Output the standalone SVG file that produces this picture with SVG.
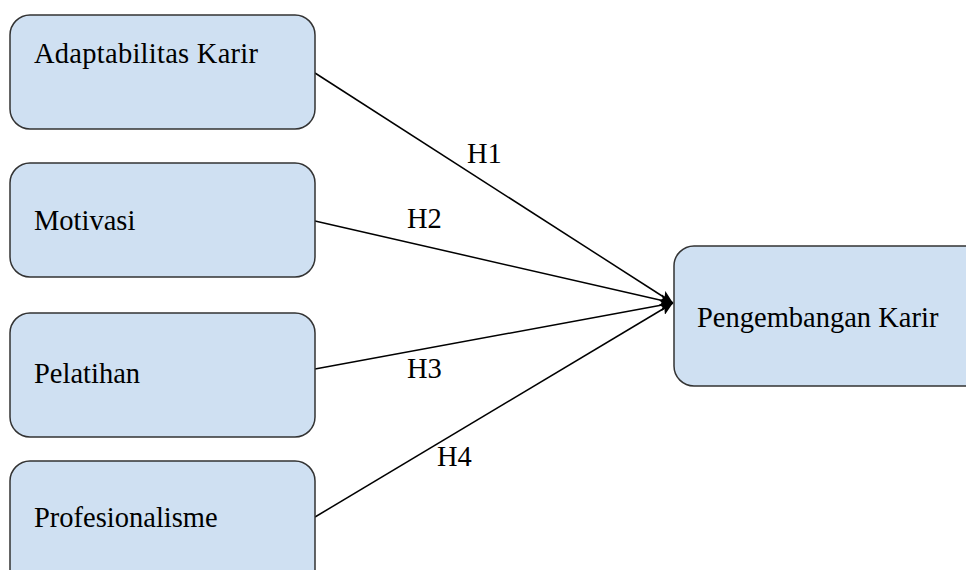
<svg xmlns="http://www.w3.org/2000/svg" width="966" height="570" viewBox="0 0 966 570">
<style>
.box{fill:#cfe0f2;stroke:#333;stroke-width:1.5}
.c{stroke:#000;stroke-width:1.5;fill:none;marker-end:url(#arr)}
</style>
<defs>
<marker id="arr" markerUnits="userSpaceOnUse" markerWidth="14" markerHeight="12" refX="13" refY="6" orient="auto">
<path d="M0,0 L13,6 L0,12 L3,6 z" fill="#000"/>
</marker>
</defs>
<rect width="966" height="570" fill="#fff"/>
<g font-family="Liberation Serif, DejaVu Serif, serif" font-size="28.5" fill="#000">
<g id="connectors">
<line class="c" x1="315" y1="73" x2="673" y2="303"/>
<line class="c" x1="315" y1="221" x2="673" y2="303"/>
<line class="c" x1="315" y1="369" x2="673" y2="303"/>
<line class="c" x1="315" y1="517" x2="673" y2="303"/>
<text x="467" y="163">H1</text>
<text x="407" y="228">H2</text>
<text x="407" y="378">H3</text>
<text x="437" y="466">H4</text>
</g>
<g id="n1"><rect class="box" x="10" y="15" width="305" height="114" rx="20"/><text x="34" y="63" textLength="224">Adaptabilitas Karir</text></g>
<g id="n2"><rect class="box" x="10" y="163" width="305" height="114" rx="20"/><text x="34" y="230">Motivasi</text></g>
<g id="n3"><rect class="box" x="10" y="313" width="305" height="124" rx="20"/><text x="34" y="383">Pelatihan</text></g>
<g id="n4"><rect class="box" x="10" y="461" width="305" height="130" rx="20"/><text x="34" y="527">Profesionalisme</text></g>
<g id="n5"><rect class="box" x="674" y="246" width="320" height="140" rx="20"/><text x="697" y="327">Pengembangan Karir</text></g>
</g>
</svg>
